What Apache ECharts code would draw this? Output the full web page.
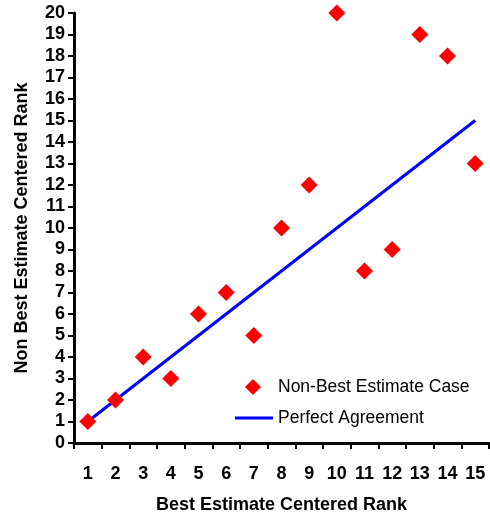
<!DOCTYPE html>
<html>
<head>
<meta charset="utf-8">
<script src="https://cdn.jsdelivr.net/npm/echarts@6/dist/echarts.min.js"></script>
<style>html,body{margin:0;padding:0;background:#fff}#chart{width:490px;height:514px}</style>
</head>
<body>
<div id="chart"></div>
<script>
// ranks along the x axis
const ranks = ['1', '2', '3', '4', '5', '6', '7', '8', '9', '10', '11', '12', '13', '14', '15'];
// non best estimate centered rank for each case
const nonBestRank = [1, 2, 4, 3, 6, 7, 5, 10, 12, 20, 8, 9, 19, 18, 13];
// perfect agreement line
const perfect = [1, 2, 3, 4, 5, 6, 7, 8, 9, 10, 11, 12, 13, 14, 15];

const FONT = 'Liberation Sans, Arial, sans-serif';
const chart = echarts.init(document.getElementById('chart'), null, { renderer: 'canvas' });

chart.setOption({
  backgroundColor: '#fff',
  animation: false,
  textStyle: { fontFamily: FONT },
  grid: { left: 74, right: 1, top: 13, bottom: 71, containLabel: false, outerBoundsMode: 'none' },
  legend: [
    {
      data: ['Non-Best Estimate Case'],
      left: 245, top: 378,
      padding: 0,
      itemWidth: 16, itemHeight: 16,
      textStyle: { fontFamily: FONT, fontSize: 17.5, color: '#000', padding: [0, 0, 0, 12] },
    },
    {
      data: [{ name: 'Perfect Agreement', icon: 'rect' }],
      left: 235, top: 409,
      padding: 0,
      itemWidth: 38, itemHeight: 3,
      textStyle: { fontFamily: FONT, fontSize: 17.5, color: '#000' },
    },
  ],
  xAxis: {
    type: 'category',
    data: ranks,
    boundaryGap: true,
    name: 'Best Estimate Centered Rank',
    nameLocation: 'middle',
    nameGap: 53,
    nameTextStyle: { fontFamily: FONT, fontSize: 18, fontWeight: 'bold', color: '#000' },
    axisLine: { lineStyle: { color: '#000', width: 3 } },
    axisTick: { show: true, interval: 0, length: 6, lineStyle: { color: '#000', width: 2 } },
    axisLabel: { interval: 0, margin: 22, fontSize: 18, fontWeight: 'bold', color: '#000' },
    splitLine: { show: false },
  },
  yAxis: {
    type: 'value',
    min: 0, max: 20, interval: 1,
    name: 'Non Best Estimate Centered Rank',
    nameLocation: 'middle',
    nameGap: 43,
    nameTextStyle: { fontFamily: FONT, fontSize: 18, fontWeight: 'bold', color: '#000' },
    axisLine: { show: true, lineStyle: { color: '#000', width: 3 } },
    axisTick: { show: true, length: 6, lineStyle: { color: '#000', width: 2 } },
    axisLabel: { margin: 9, fontSize: 18, fontWeight: 'bold', color: '#000' },
    splitLine: { show: false },
  },
  series: [
    {
      name: 'Perfect Agreement',
      type: 'line',
      data: perfect,
      symbol: 'none',
      lineStyle: { color: '#0000FF', width: 3 },
      itemStyle: { color: '#0000FF' },
      z: 2,
    },
    {
      name: 'Non-Best Estimate Case',
      type: 'scatter',
      data: nonBestRank,
      symbol: 'diamond',
      symbolSize: 17,
      itemStyle: { color: '#FF0000', opacity: 1 },
      z: 3,
    },
  ],
});
</script>
</body>
</html>
